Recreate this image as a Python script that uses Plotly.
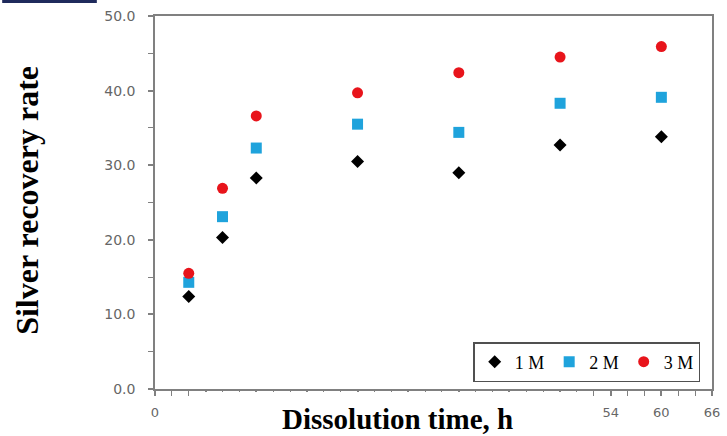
import plotly.graph_objects as go

# Data
time_h = [4, 8, 12, 24, 36, 48, 60]
rate_1M = [12.4, 20.3, 28.3, 30.5, 29.0, 32.7, 33.8]
rate_2M = [14.3, 23.1, 32.3, 35.5, 34.4, 38.3, 39.1]
rate_3M = [15.5, 26.9, 36.6, 39.7, 42.4, 44.5, 45.9]
series_names = ["1 M", "2 M", "3 M"]
x_tick_vals = [0, 6, 12, 18, 24, 30, 36, 42, 48, 54, 60, 66]
x_tick_labels = ["0", "", "", "", "", "", "", "", "", "54", "60", "66"]
y_tick_vals = [0, 10, 20, 30, 40, 50]

W, H = 727, 436
L, R, T, B = 155, 7, 16, 47
pw, ph = W - L - R, H - T - B

def px(xp):
    return (xp - L) / pw

def py(yp):
    return (H - B - yp) / ph

fig = go.Figure()
fig.add_trace(go.Scatter(x=time_h, y=rate_1M, mode="markers", name=series_names[0],
                         marker=dict(symbol="diamond", size=10, color="#000000")))
fig.add_trace(go.Scatter(x=time_h, y=rate_2M, mode="markers", name=series_names[1],
                         marker=dict(symbol="square", size=11, color="#1FA3DC")))
fig.add_trace(go.Scatter(x=time_h, y=rate_3M, mode="markers", name=series_names[2],
                         marker=dict(symbol="circle", size=11, color="#E8141B")))

axis_common = dict(showline=True, linecolor="#808080", linewidth=1.5, mirror=True,
                   showgrid=False, zeroline=False, ticks="outside", ticklen=5,
                   tickcolor="#808080", tickwidth=1.5)

fig.update_xaxes(range=[0, 66], tickvals=x_tick_vals, ticktext=x_tick_labels,
                 tickfont=dict(family="DejaVu Sans", size=13, color="#666666"),
                 ticklabelstandoff=6,
                 minor=dict(dtick=2, ticks="outside", ticklen=5, tickcolor="#808080", tickwidth=1.2),
                 **axis_common)
fig.update_yaxes(range=[0, 50], tickvals=y_tick_vals, tickformat=".1f",
                 tickfont=dict(family="DejaVu Sans", size=14, color="#666666"),
                 ticklabelstandoff=10,
                 minor=dict(dtick=5, ticks="outside", ticklen=5, tickcolor="#808080", tickwidth=1.2),
                 **axis_common)

fig.update_layout(
    width=W, height=H,
    margin=dict(l=L, r=R, t=T, b=B),
    paper_bgcolor="white", plot_bgcolor="white",
    showlegend=True,
    legend=dict(orientation="h", xanchor="right", yanchor="bottom",
                x=px(708), y=py(382),
                bgcolor="white", bordercolor="#505050", borderwidth=1.5,
                font=dict(family="Liberation Serif", size=18, color="#000000"),
                itemwidth=30, tracegroupgap=0),
    shapes=[
        dict(type="rect", xref="paper", yref="paper", layer="above",
             x0=px(197), x1=px(594), y0=py(437), y1=py(392),
             fillcolor="white", line=dict(width=0)),
        dict(type="rect", xref="paper", yref="paper", layer="above",
             x0=px(0), x1=px(96), y0=py(3), y1=py(-1),
             fillcolor="#1F2A5C", line=dict(width=0)),
    ],
    annotations=[
        dict(text="<b>Dissolution time, h</b>", xref="paper", yref="paper",
             x=px(401), y=py(419), xanchor="center", yanchor="middle", showarrow=False,
             font=dict(family="Liberation Serif", size=29, color="#000000")),
        dict(text="<b>Silver recovery rate</b>", xref="paper", yref="paper",
             x=px(25), y=py(200), xanchor="center", yanchor="middle", showarrow=False,
             textangle=-90,
             font=dict(family="Liberation Serif", size=32, color="#000000")),
    ],
)

fig.write_html("out.html", config={"displayModeBar": False},
               post_script="document.body.style.margin='0px';")
